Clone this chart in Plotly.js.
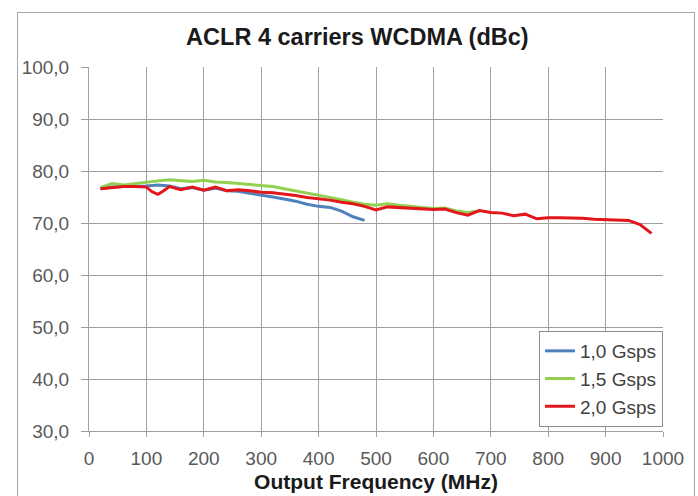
<!DOCTYPE html>
<html>
<head>
<meta charset="utf-8">
<script src="https://cdn.plot.ly/plotly-3.0.1.min.js"></script>
<style>
  html, body { margin: 0; padding: 0; background: #ffffff; }
  #wrap { position: relative; width: 698px; height: 496px; overflow: hidden; }
  #chart { position: absolute; left: 0; top: 0; width: 698px; height: 496px; }
  #frame { position: absolute; left: 17px; top: 12px; width: 676px; height: 500px;
           border: 1px solid #a6a6a6; pointer-events: none; }
</style>
</head>
<body>
<div id="wrap">
  <div id="chart"></div>
  <div id="frame"></div>
</div>
<script>
// Series names
const seriesNames = ['1,0 Gsps', '1,5 Gsps', '2,0 Gsps'];

// 1,0 Gsps (blue)
const freq10 = [20, 40, 60, 80, 100, 120, 140, 160, 180, 200, 220, 240, 260, 280, 300, 320, 340, 360, 380, 400, 420, 440, 460, 480];
const aclr10 = [76.6, 76.9, 77.0, 77.0, 77.1, 77.3, 77.1, 76.6, 76.8, 76.3, 76.7, 76.2, 76.1, 75.7, 75.4, 75.0, 74.6, 74.2, 73.6, 73.2, 73.0, 72.3, 71.2, 70.5];

// 1,5 Gsps (green)
const freq15 = [20, 40, 60, 80, 100, 120, 140, 160, 180, 200, 220, 240, 260, 280, 300, 320, 340, 360, 380, 400, 420, 440, 460, 480, 500, 520, 540, 560, 580, 600, 620, 640, 660, 680];
const aclr15 = [76.8, 77.6, 77.3, 77.6, 77.9, 78.1, 78.3, 78.2, 78.0, 78.2, 77.9, 77.8, 77.6, 77.5, 77.3, 77.0, 76.6, 76.2, 75.7, 75.4, 75.0, 74.5, 74.0, 73.6, 73.4, 73.7, 73.4, 73.2, 73.0, 72.8, 72.9, 72.3, 72.0, 72.3];

// 2,0 Gsps (red)
const freq20 = [20, 40, 60, 80, 100, 110, 120, 130, 140, 160, 180, 200, 220, 240, 260, 280, 300, 320, 340, 360, 380, 400, 420, 440, 460, 480, 500, 520, 540, 560, 580, 600, 620, 640, 660, 680, 700, 720, 740, 760, 780, 800, 820, 840, 860, 880, 900, 920, 940, 960, 980];
const aclr20 = [76.6, 76.8, 77.0, 77.0, 76.9, 76.0, 75.5, 76.2, 77.0, 76.4, 76.9, 76.3, 76.9, 76.2, 76.4, 76.2, 75.9, 75.8, 75.6, 75.3, 74.9, 74.7, 74.4, 74.0, 73.7, 73.2, 72.5, 73.1, 73.0, 72.8, 72.7, 72.6, 72.7, 72.0, 71.5, 72.4, 72.0, 71.9, 71.4, 71.7, 70.8, 71.0, 71.0, 71.0, 70.9, 70.7, 70.6, 70.5, 70.5, 69.7, 68.0];

// Axis ticks
const xTicks = [0, 100, 200, 300, 400, 500, 600, 700, 800, 900, 1000];
const yTicks = [30, 40, 50, 60, 70, 80, 90, 100];

const titleText = 'ACLR 4 carriers WCDMA (dBc)';
const xTitleText = 'Output Frequency (MHz)';

const traces = [
  { x: freq10, y: aclr10, name: seriesNames[0], type: 'scatter', mode: 'lines',
    line: { color: '#4f81bd', width: 3 } },
  { x: freq15, y: aclr15, name: seriesNames[1], type: 'scatter', mode: 'lines',
    line: { color: '#92d050', width: 3 } },
  { x: freq20, y: aclr20, name: seriesNames[2], type: 'scatter', mode: 'lines',
    line: { color: '#e3161c', width: 3 } }
];

const grid = '#a0a0a0';
const fam = 'Liberation Sans, Arial, sans-serif';
const tickFont = { family: fam, size: 19, color: '#595959' };

const layout = {
  width: 698, height: 496,
  margin: { l: 89, r: 35, t: 67, b: 65 },
  paper_bgcolor: '#ffffff', plot_bgcolor: '#ffffff',
  separators: ', ',
  showlegend: true,
  title: {
    text: titleText,
    font: { family: fam, size: 23.5, color: '#1a1a1a', weight: 'bold' },
    x: 0.512, xref: 'container', xanchor: 'center',
    y: 1 - 37 / 496, yref: 'container', yanchor: 'middle'
  },
  xaxis: {
    range: [0, 1000], tickvals: xTicks, ticktext: xTicks.map(String),
    showgrid: true, gridcolor: grid, gridwidth: 1,
    showline: true, linecolor: grid, linewidth: 1,
    ticks: 'outside', ticklen: 5, tickcolor: grid,
    tickfont: tickFont, ticklabelstandoff: 5,
    zeroline: false, fixedrange: true,
    title: { text: xTitleText, standoff: 6,
      font: { family: fam, size: 21, color: '#1a1a1a', weight: 'bold' } }
  },
  yaxis: {
    range: [30, 100], tickvals: yTicks, tickformat: '.1f',
    showgrid: true, gridcolor: grid, gridwidth: 1,
    showline: true, linecolor: grid, linewidth: 1,
    ticks: 'outside', ticklen: 7, tickcolor: grid,
    tickfont: tickFont, ticklabelstandoff: 8,
    zeroline: false, fixedrange: true
  },
  legend: {
    x: 1, xanchor: 'right', y: 0.011, yanchor: 'bottom',
    bgcolor: '#ffffff', bordercolor: '#8c8c8c', borderwidth: 1,
    font: { family: fam, size: 19, color: '#404040' },
    itemwidth: 30, tracegroupgap: 0
  }
};

Plotly.newPlot('chart', traces, layout, { displayModeBar: false, staticPlot: true });
</script>
</body>
</html>
